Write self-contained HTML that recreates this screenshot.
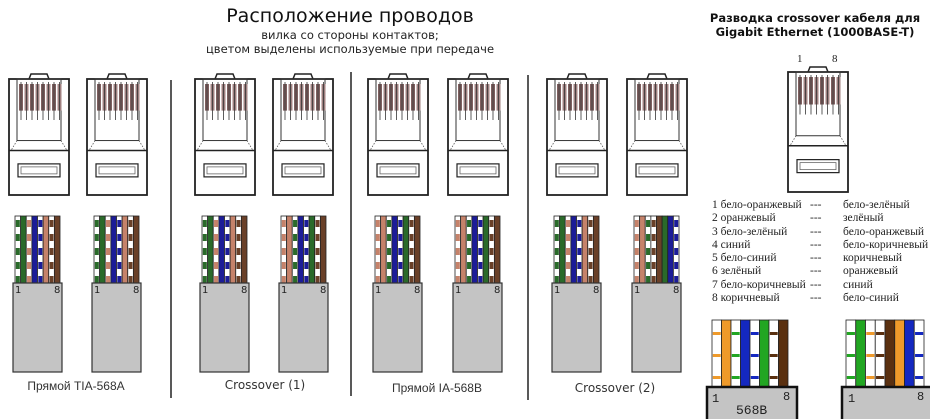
<!DOCTYPE html>
<html><head><meta charset="utf-8">
<style>
html,body{margin:0;padding:0;background:#fff;}
body{width:930px;height:419px;overflow:hidden;position:relative;font-family:"Liberation Sans","DejaVu Sans",sans-serif;}
svg{position:absolute;left:0;top:0;}
.t{position:absolute;white-space:nowrap;color:#111;}
</style></head><body>
<svg id="s" width="930" height="419" xmlns="http://www.w3.org/2000/svg"></svg>
<div class="t" style="left:0;width:700px;text-align:center;top:5px;font-family:'DejaVu Sans',sans-serif;font-size:19px;">Расположение проводов</div>
<div class="t" style="left:0;width:700px;text-align:center;top:28px;font-family:'DejaVu Sans',sans-serif;font-size:11.5px;color:#222">вилка со стороны контактов;</div>
<div class="t" style="left:0;width:700px;text-align:center;top:42px;font-family:'DejaVu Sans',sans-serif;font-size:11.5px;color:#222">цветом выделены используемые при передаче</div>
<div class="t" style="left:700px;width:230px;text-align:center;top:11px;font-family:'DejaVu Sans',sans-serif;font-weight:bold;font-size:11.5px;line-height:14px;">Разводка crossover кабеля для<br>Gigabit Ethernet (1000BASE-T)</div>
<div class="t" style="left:0;width:152px;text-align:center;top:379px;font-size:12px;color:#333">Прямой TIA-568A</div>
<div class="t" style="left:190px;width:150px;text-align:center;top:378px;font-family:'DejaVu Sans',sans-serif;font-size:12px;color:#333">Crossover (1)</div>
<div class="t" style="left:362px;width:150px;text-align:center;top:381px;font-size:12px;color:#333">Прямой IA-568B</div>
<div class="t" style="left:540px;width:150px;text-align:center;top:381px;font-family:'DejaVu Sans',sans-serif;font-size:12px;color:#333">Crossover (2)</div>
<div class="t" style="left:712px;top:199px;font-family:'Liberation Serif',serif;font-size:11.5px;line-height:13.3px;color:#222">1 бело-оранжевый<br>2 оранжевый<br>3 бело-зелёный<br>4 синий<br>5 бело-синий<br>6 зелёный<br>7 бело-коричневый<br>8 коричневый</div>
<div class="t" style="left:810px;top:199px;font-family:'Liberation Serif',serif;font-size:11.5px;line-height:13.3px;color:#222">---<br>---<br>---<br>---<br>---<br>---<br>---<br>---</div>
<div class="t" style="left:843px;top:199px;font-family:'Liberation Serif',serif;font-size:11.5px;line-height:13.3px;color:#222">бело-зелёный<br>зелёный<br>бело-оранжевый<br>бело-коричневый<br>коричневый<br>оранжевый<br>синий<br>бело-синий</div>
<script>
var s=document.getElementById('s'),h='';
function R(x,y,w,hh,f,st,sw){h+='<rect x="'+x+'" y="'+y+'" width="'+w+'" height="'+hh+'" fill="'+f+'"'+(st?' stroke="'+st+'" stroke-width="'+(sw||1)+'"':'')+'/>';}
function L(x1,y1,x2,y2,c,w,d){h+='<line x1="'+x1+'" y1="'+y1+'" x2="'+x2+'" y2="'+y2+'" stroke="'+c+'" stroke-width="'+(w||1)+'"'+(d?' stroke-dasharray="'+d+'"':'')+'/>';}
function T(x,y,t,sz,ff){h+='<text x="'+x+'" y="'+y+'" font-size="'+sz+'" font-family="'+(ff||'DejaVu Sans,sans-serif')+'" fill="#222">'+t+'</text>';}
function plug(x,y,w,hh){
 var k=w/60;
 h+='<path d="M'+(x+20*k)+' '+(y+5)+' L'+(x+22*k)+' '+y+' L'+(x+38*k)+' '+y+' L'+(x+40*k)+' '+(y+5)+'" fill="none" stroke="#222" stroke-width="1.5"/>';
 R(x,y+5,w,hh-5,'#fff','#222',1.8);
 var ib=y+hh*0.55;
 R(x+8*k,y+5,w-16*k,ib-y-5,'none','#333',1);
 L(x,ib+10,x+w,ib+10,'#222',1.5);
 L(x+8*k,ib,x+2,ib+10,'#555',0.8,'1.5 1.5');L(x+w-8*k,ib,x+w-2,ib+10,'#555',0.8,'1.5 1.5');
 for(var i=0;i<8;i++){var cx=x+10*k+i*5.5*k;R(cx,y+10,4*k,hh*0.22,i%2?'#a08080':'#806060');L(cx+2*k,y+8,cx+2*k,y+hh*0.38,'#333',0.8);}
 var sy=ib+10+(hh-(ib+10-y))*0.3;
 R(x+9*k,sy,w-18*k,13,'#fff','#222',1.2);R(x+12*k,sy+3,w-24*k,7,'#fff','#666',0.8);
}
var C={g:'#2a6a2a',o:'#c5826a',b:'#1c1c98',n:'#6a4028',G:'#22a622',O:'#ef9a2a',B:'#1428c0',N:'#5a3010'};
function wires(x,y,w,hh,seq,dash){
 var ww=w/8;
 for(var i=0;i<8;i++){var c=seq[i],xx=x+i*ww;
  if(c[0]=='w'){R(xx,y,ww,hh,'#fff','#222',0.8);L(xx+ww/2,y+dash[2],xx+ww/2,y+hh,C[c[1]],ww-1.6,dash[0]+' '+dash[1]);}
  else R(xx,y,ww,hh,C[c],'#222',0.8);}
}
function cable(x,y,w,hh){R(x,y,w,hh,'#c4c4c4','#333',1.2);T(x+2,y+10,'1',10);T(x+w-8,y+10,'8',10);}
var A=['wg','g','wo','b','wb','o','wn','n'],B=['wo','o','wg','b','wb','g','wn','n'],X=['wo','o','wg','wn','n','g','b','wb'];
var sets=[[9,87,A,A,15,94],[195,273,A,B,202,281],[368,448,B,B,375,455],[547,627,A,X,554,634]];
sets.forEach(function(p){
 plug(p[0],74,60,121);plug(p[1],74,60,121);
 wires(p[4],216,45,67,p[2],[7,7,4]);wires(p[5],216,45,67,p[3],[7,7,4]);
 cable(p[4]-2,283,49,89);cable(p[5]-2,283,49,89);
});
L(171,80,171,398,'#222',1.5);L(351,72,351,396,'#222',1.5);L(528,75,528,400,'#222',1.5);
plug(788,67,60,125);
T(797,62,'1',11,'Liberation Serif,serif');T(832,62,'8',11,'Liberation Serif,serif');
var RB=['wO','O','wG','B','wB','G','wN','N'],RX=['wG','G','wO','wN','N','O','B','wB'];
wires(712,320,76,67,RB,[3,19,12]);
wires(846,320,78,67,RX,[3,19,12]);
R(707,387,90,40,'#c4c4c4','#111',2.5);T(712,402,'1',12,'Liberation Mono,monospace');T(783,400,'8',12,'Liberation Mono,monospace');T(736,414,'568B',13,'Liberation Mono,monospace');
R(842,387,92,40,'#c4c4c4','#111',2.5);T(848,402,'1',12,'Liberation Mono,monospace');T(917,400,'8',12,'Liberation Mono,monospace');
s.innerHTML=h;
</script>
</body></html>
